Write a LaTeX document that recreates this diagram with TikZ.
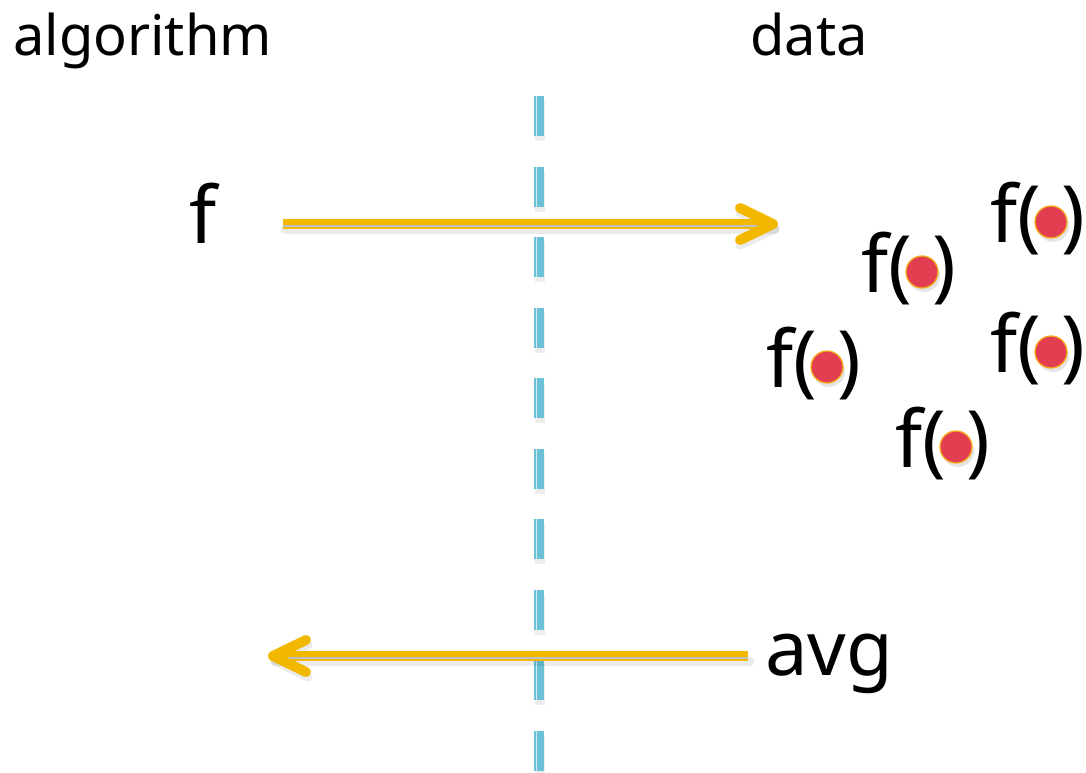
\documentclass[tikz,border=0pt]{standalone}
\usepackage{fontspec}
\setmainfont{Noto Sans}
\usetikzlibrary{calc}
\definecolor{yel}{RGB}{242,184,0}
\definecolor{dashblue}{RGB}{108,193,214}
\definecolor{dotred}{RGB}{226,61,80}
\definecolor{dotrim}{RGB}{245,170,30}
\begin{document}
\begin{tikzpicture}[x=1pt,y=-1pt,
  lbl/.style={inner sep=0pt, anchor=base west, text=black},
  headfont/.style={font=\fontsize{56}{62}\selectfont},
  bigfont/.style={font=\fontsize{79}{90}\selectfont},
  divider/.style={draw=dashblue, line width=10pt, dash pattern=on 40pt off 30.5pt},
  dividerstripe/.style={draw=white!70!dashblue, line width=1.6pt, dash pattern=on 40pt off 30.5pt},
  dividershadow/.style={draw=black, opacity=0.07, line width=10pt, dash pattern=on 40pt off 30.5pt},
  yshaft/.style={draw=yel, line width=9.5pt},
  ystripe/.style={draw=black!25, line width=1.5pt},
  yhead/.style={draw=yel, line width=10pt, line cap=round, line join=round},
  yshadow/.style={draw=black, opacity=0.08, line width=9pt, line cap=round, line join=round},
  dotnode/.style={circle, minimum size=32pt, inner sep=0pt, fill=dotred, draw=dotrim, line width=1.3pt},
  dotshadow/.style={circle, minimum size=32pt, inner sep=0pt, fill=black, opacity=0.10},
]
\useasboundingbox (0,0) rectangle (1086,773);

% divider
\coordinate (dtop) at (539,96);
\coordinate (dbot) at (539,773);
\draw[dividershadow] ($(dtop)+(1,5)$) -- ($(dbot)+(1,5)$);
\draw[divider] (dtop) -- (dbot);
\draw[dividerstripe] ($(dtop)+(-2.5,0)$) -- ($(dbot)+(-2.5,0)$);

% headings
\node[lbl, headfont] (alg) at (13,56) {algorithm};
\node[lbl, headfont] (data) at (750,56) {data};

% left labels
\node[lbl, bigfont] (f) at (189,243) {f};
\node[lbl, font=\fontsize{76}{90}\selectfont] (avg) at (765,675) {avg};

% top arrow
\coordinate (fs) at (283,224);
\coordinate (fe) at (773,224);
\draw[yshadow] ($(fs)+(2,5)$) -- ($(fe)+(2,5)$);
\draw[yshadow] ($(fe)+(-33,-11)$) -- ($(fe)+(2,5)$) -- ($(fe)+(-33,21)$);
\draw[yshaft] (fs) -- (fe);
\draw[ystripe] ($(fs)+(0,1.8)$) -- ($(fe)+(-12,1.8)$);
\draw[yhead] ($(fe)+(-33,-16)$) -- (fe) -- ($(fe)+(-33,16)$);

% bottom arrow
\coordinate (bs) at (748,656);
\coordinate (be) at (273,656);
\draw[yshadow] ($(bs)+(2,5)$) -- ($(be)+(2,5)$);
\draw[yshadow] ($(be)+(35,-11)$) -- ($(be)+(2,5)$) -- ($(be)+(35,21)$);
\draw[yshaft] (bs) -- (be);
\draw[ystripe] ($(bs)+(0,1.8)$) -- ($(be)+(12,1.8)$);
\draw[yhead] ($(be)+(33,-16)$) -- (be) -- ($(be)+(33,16)$);

% f(.) items
\foreach \n/\x/\y in {1/990/242, 2/861/292, 3/766/387, 4/990/372, 5/895/467} {
  \node[lbl, bigfont] (f\n) at (\x,\y) {f(\hspace{20pt})};
  \node[dotshadow] (s\n) at ($(f\n.base west)+(63,-16)$) {};
  \node[dotnode] (d\n) at ($(f\n.base west)+(61,-20)$) {};
}
\end{tikzpicture}
\end{document}
